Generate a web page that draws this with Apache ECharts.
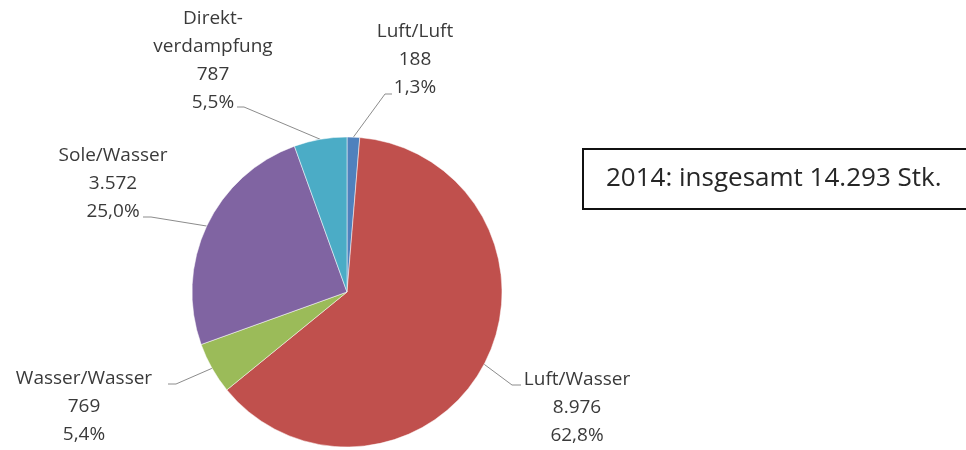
<!DOCTYPE html>
<html>
<head>
<meta charset="utf-8">
<script src="https://cdn.jsdelivr.net/npm/echarts@6/dist/echarts.min.js"></script>
<style>html,body{margin:0;padding:0;background:#fff;}#c{width:966px;height:450px;}</style>
</head>
<body>
<div id="c"></div>
<script>
// Data
var categories = ['Luft/Luft', 'Luft/Wasser', 'Wasser/Wasser', 'Sole/Wasser', 'Direkt-\nverdampfung'];
var values = [188, 8976, 769, 3572, 787];
var colors = ['#4F81BD', '#C0504D', '#9BBB59', '#8064A2', '#4BACC6'];
var totalText = '2014: insgesamt 14.293 Stk.';

// Label layout (not data): block centres and guide-line bend/end points
var labelPos = [[415, 60], [577, 408], [84, 407], [113, 184], [213, 61]];
var guideEnds = [
  [[385, 94], [392, 94]],
  [[512, 385], [521, 385]],
  [[176, 384], [168, 384]],
  [[151, 217], [143, 217]],
  [[244, 107], [237, 107]]
];

function fmtNum(v) { return String(v).replace(/\B(?=(\d{3})+(?!\d))/g, '.'); }

var chart = echarts.init(document.getElementById('c'), null, {renderer: 'canvas'});
chart.setOption({
  animation: false,
  backgroundColor: '#fff',
  title: {
    text: totalText,
    left: 583, top: 149,
    padding: [17, 100, 17, 23],
    borderColor: '#111', borderWidth: 2,
    textStyle: {fontFamily: 'Open Sans', fontSize: 26, fontWeight: 'normal', color: '#262626'}
  },
  series: [{
    type: 'pie',
    center: [347, 292],
    radius: 155,
    startAngle: 90,
    clockwise: true,
    percentPrecision: 1,
    avoidLabelOverlap: false,
    data: categories.map(function (c, i) {
      return {name: c, value: values[i], itemStyle: {color: colors[i]}};
    }),
    itemStyle: {borderColor: 'rgba(255,255,255,0.5)', borderWidth: 1},
    label: {
      show: true,
      position: 'outside',
      fontFamily: 'Open Sans',
      fontSize: 19,
      lineHeight: 28,
      color: '#3a3a3a',
      align: 'center',
      formatter: function (p) {
        return p.name + '\n' + fmtNum(p.value) + '\n' + p.percent.toFixed(1).replace('.', ',') + '%';
      }
    },
    labelLine: {show: true, length: 20, length2: 10, lineStyle: {color: '#8c8c8c', width: 1}},
    labelLayout: function (p) {
      var pos = labelPos[p.dataIndex];
      var g = guideEnds[p.dataIndex];
      var res = {x: pos[0], y: pos[1], align: 'center', verticalAlign: 'middle'};
      if (p.labelLinePoints && p.labelLinePoints.length) {
        res.labelLinePoints = [p.labelLinePoints[0], g[0], g[1]];
      }
      return res;
    }
  }]
});
</script>
</body>
</html>
